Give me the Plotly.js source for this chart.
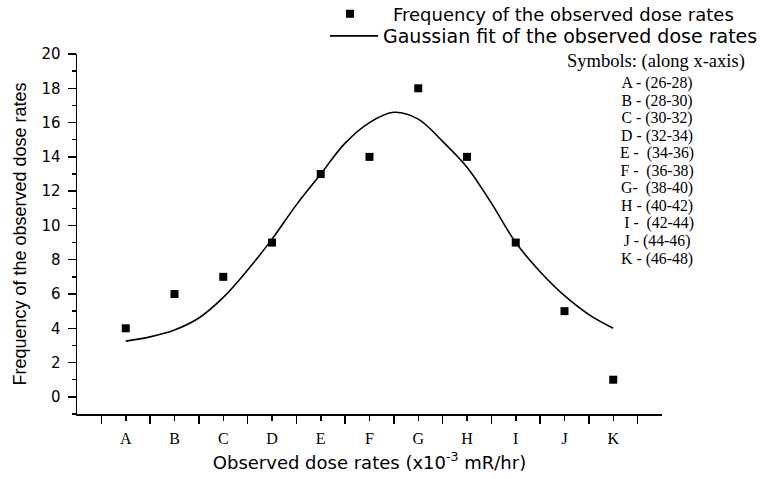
<!DOCTYPE html>
<html>
<head>
<meta charset="utf-8">
<script src="https://cdn.plot.ly/plotly-3.0.1.min.js"></script>
<style>html,body{margin:0;padding:0;background:#fff;}#chart{width:769px;height:479px;}</style>
</head>
<body>
<div id="chart"></div>
<script>
// Categories along the x-axis and their dose-rate bins
const categories = ['A','B','C','D','E','F','G','H','I','J','K'];
const symbolHeader = 'Symbols: (along x-axis)';
const symbolRows = ['A - (26-28)','B - (28-30)','C - (30-32)','D - (32-34)','E -  (34-36)','F -  (36-38)','G-  (38-40)','H - (40-42)',' I -  (42-44)','J - (44-46)','K - (46-48)'];
// Observed frequencies
const frequency = [4, 6, 7, 9, 13, 14, 18, 14, 9, 5, 1];
// Gaussian fit curve (position in category units, value)
const fitPos = [1, 1.5, 2, 2.5, 3, 3.5, 4, 4.5, 5, 5.5, 6, 6.5, 7, 7.5, 8, 8.5, 9, 9.5, 10, 10.5, 11];
const fitVal = [3.25, 3.5, 3.9, 4.6, 5.8, 7.4, 9.2, 11.2, 13.0, 14.8, 16.0, 16.6, 16.2, 14.9, 13.4, 11.3, 9.0, 7.3, 5.9, 4.8, 4.0];
const yTitle = 'Frequency of the observed dose rates';
const xTitle = 'Observed dose rates (x10<sup>-3</sup> mR/hr)';
const legendNames = ['Frequency of the observed dose rates', 'Gaussian fit of the observed dose rates'];

const catPos = categories.map((c, i) => i + 1);

const traces = [
  {
    x: catPos, y: frequency, type: 'scatter', mode: 'markers',
    name: legendNames[0], legend: 'legend',
    marker: {symbol: 'square', size: 8, color: '#000'},
    cliponaxis: false
  },
  {
    x: fitPos, y: fitVal, type: 'scatter', mode: 'lines',
    name: legendNames[1], legend: 'legend2',
    line: {color: '#000', width: 1.6, shape: 'spline', smoothing: 1}
  }
];

const L = 77, R = 107, T = 54, B = 65, W = 769, H = 479;
const pw = W - L - R, ph = H - T - B;
const px2x = p => (p - L) / pw;
const px2y = p => (H - B - p) / ph;

// Symbols key: header, then one text block whose rows are spaced by the base font
const keyRows = symbolRows.map(s => '<span style="font-size:15.8px">' + s + '</span>');
const annotations = [
  {
    text: symbolHeader, xref: 'paper', yref: 'paper',
    x: px2x(656), y: px2y(61), xanchor: 'center', yanchor: 'middle',
    showarrow: false,
    font: {family: 'Liberation Serif', size: 18.5, color: '#000'}
  },
  {
    text: keyRows.join('<br>'), xref: 'paper', yref: 'paper',
    x: px2x(657), y: px2y(72), xanchor: 'center', yanchor: 'top', align: 'center',
    showarrow: false,
    font: {family: 'Liberation Serif', size: 13.5, color: '#000'}
  }
];

const axisCommon = {
  showline: true, linecolor: '#000', linewidth: 1.5,
  ticks: 'outside', tickcolor: '#000', tickwidth: 1.5,
  showgrid: false, zeroline: false
};

const layout = {
  width: W, height: H,
  margin: {l: L, r: R, t: T, b: B, pad: 0, autoexpand: false},
  paper_bgcolor: '#fff', plot_bgcolor: '#fff',
  showlegend: true,
  xaxis: Object.assign({}, axisCommon, {
    range: [0, categories.length + 1],
    tickmode: 'array', tickvals: catPos, ticktext: categories,
    ticklen: 5, ticklabelstandoff: 4,
    tickfont: {family: 'Liberation Serif', size: 16, color: '#000'},
    minor: {tickmode: 'linear', tick0: 0.5, dtick: 1, ticks: 'outside', ticklen: 8, tickwidth: 1.5, tickcolor: '#000', showgrid: false},
    title: {text: xTitle, font: {family: 'DejaVu Sans', size: 18, color: '#000'}, standoff: 10}
  }),
  yaxis: Object.assign({}, axisCommon, {
    range: [-1, 20], tick0: 0, dtick: 2, ticklen: 8,
    ticklabelstandoff: 4,
    tickfont: {family: 'DejaVu Sans', size: 15, color: '#000'},
    minor: {tick0: 0, dtick: 1, ticks: 'outside', ticklen: 4, tickwidth: 1.5, tickcolor: '#000', showgrid: false},
    title: {text: yTitle, font: {family: 'Liberation Sans', size: 18, color: '#000'}, standoff: 10}
  }),
  legend: {
    x: px2x(307), xanchor: 'left', y: px2y(14), yanchor: 'middle',
    bgcolor: 'rgba(0,0,0,0)', borderwidth: 0, itemwidth: 76,
    font: {family: 'DejaVu Sans', size: 18, color: '#000'}
  },
  legend2: {
    x: px2x(325), xanchor: 'left', y: px2y(36), yanchor: 'middle',
    bgcolor: 'rgba(0,0,0,0)', borderwidth: 0, itemwidth: 48,
    font: {family: 'DejaVu Sans', size: 19, color: '#000'}
  },
  annotations: annotations
};

Plotly.newPlot('chart', traces, layout, {displayModeBar: false, staticPlot: true});
</script>
</body>
</html>
